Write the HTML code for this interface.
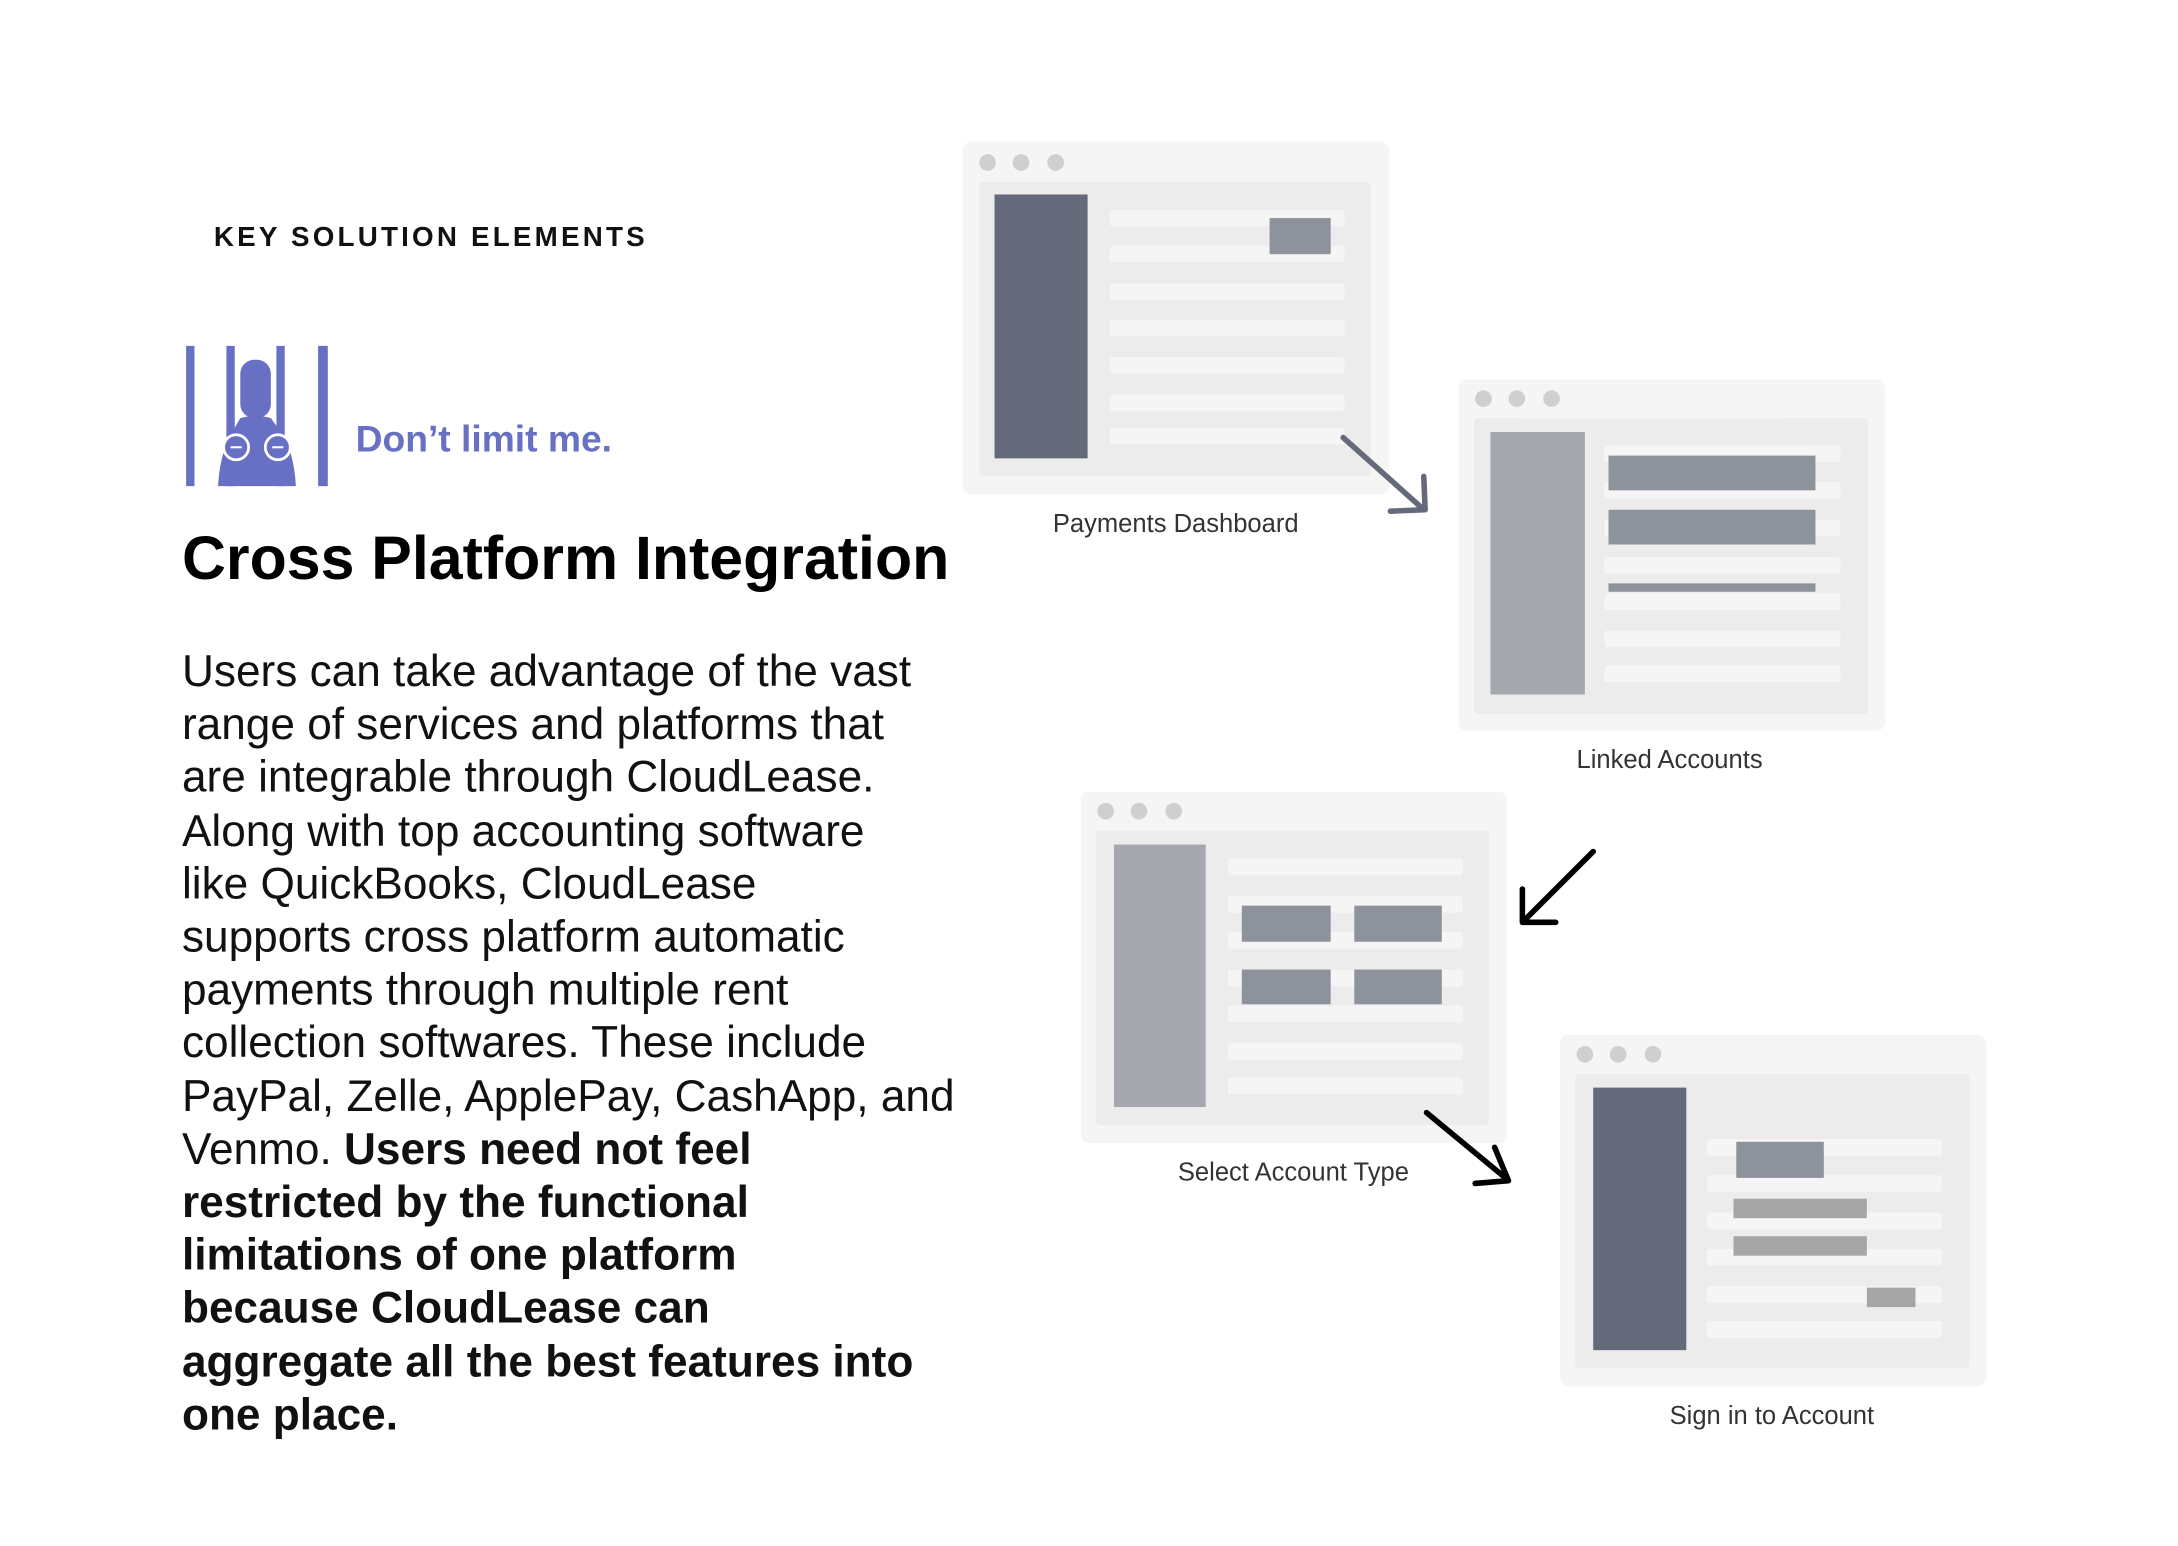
<!DOCTYPE html>
<html><head><meta charset="utf-8"><style>
html,body{margin:0;padding:0;background:#fff;}
body{width:2178px;height:1546px;overflow:hidden;position:relative;}
#w{position:absolute;left:0;top:0;width:1568px;height:1113px;transform:scale(1.38903);transform-origin:0 0;font-family:"Liberation Sans",sans-serif;}
.t{position:absolute;white-space:nowrap;}
.l{font-size:18.4px;color:#333;}
</style></head><body><div id="w">
<div class="t" style="left:154px;top:160px;font-size:20px;font-weight:bold;letter-spacing:2.3px;color:#111;">KEY SOLUTION ELEMENTS</div>
<div class="t" style="left:256px;top:301px;font-size:26.8px;font-weight:bold;color:#6870c4;">Don’t limit me.</div>
<div class="t" style="left:131px;top:378px;font-size:43.8px;font-weight:bold;color:#000;">Cross Platform Integration</div>
<div class="t" style="left:131px;top:464px;font-size:31.8px;line-height:38.2px;color:#111;">Users can take advantage of the vast<br>range of services and platforms that<br>are integrable through CloudLease.<br>Along with top accounting software<br>like QuickBooks, CloudLease<br>supports cross platform automatic<br>payments through multiple rent<br>collection softwares. These include<br>PayPal, Zelle, ApplePay, CashApp, and<br>Venmo. <b>Users need not feel<br>restricted by the functional<br>limitations of one platform<br>because CloudLease can<br>aggregate all the best features into<br>one place.</b></div>
<div class="t l" style="left:758px;top:366px;">Payments Dashboard</div>
<div class="t l" style="left:1135px;top:536px;">Linked Accounts</div>
<div class="t l" style="left:848px;top:833px;">Select Account Type</div>
<div class="t l" style="left:1202px;top:1008px;">Sign in to Account</div>
<svg style="position:absolute;left:0;top:0" width="1568" height="1113">
<g fill="#6870c4">
<rect x="134" y="249" width="6" height="101"/><rect x="229" y="249" width="7" height="101"/>
<rect x="163" y="249" width="6" height="101"/><rect x="199" y="249" width="6" height="101"/>
<rect x="173" y="259" width="22" height="42" rx="10"/>
<path d="M173 301 Q184 298 195 301 L205 315 Q212 330 213 350 L157 350 Q158 330 165 315 Z"/>
</g>
<g stroke="#fff" stroke-width="2" fill="#6870c4"><circle cx="170" cy="322" r="9"/><circle cx="200" cy="322" r="9"/></g>
<g stroke="#fff" stroke-width="1.5"><line x1="166" y1="322" x2="174" y2="322"/><line x1="196" y1="322" x2="204" y2="322"/></g>

<rect x="693" y="102" width="307" height="254" rx="6" fill="#f5f5f5"/>
<rect x="705" y="131" width="282" height="212" rx="3" fill="#ececec"/>
<g fill="#cfcfcf"><circle cx="711" cy="117" r="6"/><circle cx="735" cy="117" r="6"/><circle cx="760" cy="117" r="6"/></g>
<rect x="716" y="140" width="67" height="190" fill="#646a7a"/>
<g fill="#f5f5f5"><rect x="799" y="151" width="169" height="12" rx="2"/><rect x="799" y="177" width="169" height="12" rx="2"/><rect x="799" y="204" width="169" height="12" rx="2"/><rect x="799" y="230" width="169" height="12" rx="2"/><rect x="799" y="257" width="169" height="12" rx="2"/><rect x="799" y="284" width="169" height="12" rx="2"/><rect x="799" y="308" width="169" height="12" rx="2"/></g>
<rect x="914" y="157" width="44" height="26" fill="#8e929c"/>

<rect x="1050" y="273" width="307" height="253" rx="6" fill="#f5f5f5"/>
<rect x="1061" y="301" width="284" height="213" rx="3" fill="#ececec"/>
<g fill="#cfcfcf"><circle cx="1068" cy="287" r="6"/><circle cx="1092" cy="287" r="6"/><circle cx="1117" cy="287" r="6"/></g>
<rect x="1073" y="311" width="68" height="189" fill="#a6a8b0"/>
<g fill="#f5f5f5"><rect x="1155" y="321" width="170" height="12" rx="2"/><rect x="1155" y="347" width="170" height="12" rx="2"/><rect x="1155" y="374" width="170" height="12" rx="2"/><rect x="1155" y="401" width="170" height="12" rx="2"/><rect x="1155" y="427" width="170" height="12" rx="2"/><rect x="1155" y="454" width="170" height="12" rx="2"/><rect x="1155" y="479" width="170" height="12" rx="2"/></g>
<g fill="#8e929c"><rect x="1158" y="328" width="149" height="25"/><rect x="1158" y="367" width="149" height="25"/><rect x="1158" y="420" width="149" height="6"/></g>

<rect x="778" y="570" width="307" height="253" rx="6" fill="#f5f5f5"/>
<rect x="789" y="598" width="283" height="212" rx="3" fill="#ececec"/>
<g fill="#cfcfcf"><circle cx="796" cy="584" r="6"/><circle cx="820" cy="584" r="6"/><circle cx="845" cy="584" r="6"/></g>
<rect x="802" y="608" width="66" height="189" fill="#a6a8b0"/>
<g fill="#f5f5f5"><rect x="884" y="618" width="169" height="12" rx="2"/><rect x="884" y="645" width="169" height="12" rx="2"/><rect x="884" y="671" width="169" height="12" rx="2"/><rect x="884" y="698" width="169" height="12" rx="2"/><rect x="884" y="724" width="169" height="12" rx="2"/><rect x="884" y="751" width="169" height="12" rx="2"/><rect x="884" y="776" width="169" height="12" rx="2"/></g>
<g fill="#8e929c"><rect x="894" y="652" width="64" height="26"/><rect x="975" y="652" width="63" height="26"/><rect x="894" y="698" width="64" height="25"/><rect x="975" y="698" width="63" height="25"/></g>

<rect x="1123" y="745" width="307" height="253" rx="6" fill="#f5f5f5"/>
<rect x="1134" y="773" width="284" height="212" rx="3" fill="#ececec"/>
<g fill="#cfcfcf"><circle cx="1141" cy="759" r="6"/><circle cx="1165" cy="759" r="6"/><circle cx="1190" cy="759" r="6"/></g>
<rect x="1147" y="783" width="67" height="189" fill="#646a7a"/>
<g fill="#f5f5f5"><rect x="1229" y="820" width="169" height="12" rx="2"/><rect x="1229" y="846" width="169" height="12" rx="2"/><rect x="1229" y="873" width="169" height="12" rx="2"/><rect x="1229" y="899" width="169" height="12" rx="2"/><rect x="1229" y="926" width="169" height="12" rx="2"/><rect x="1229" y="951" width="169" height="12" rx="2"/></g>
<rect x="1250" y="822" width="63" height="26" fill="#8e929c"/>
<g fill="#a6a6a6"><rect x="1248" y="863" width="96" height="14"/><rect x="1248" y="890" width="96" height="14"/><rect x="1344" y="927" width="35" height="14"/></g>

<g fill="none" stroke-width="4" stroke-linecap="round" stroke-linejoin="round">
<path d="M967 315 L1024 366 M1025 343 L1026 367 L1001 368" stroke="#646a7a"/>
<path d="M1147 613 L1097 663 M1096 640 L1096 664 L1120 664" stroke="#000"/>
<path d="M1027 801 L1085 849 M1076 826 L1086 850 L1062 852" stroke="#000"/>
</g>
</svg>
</div></body></html>
